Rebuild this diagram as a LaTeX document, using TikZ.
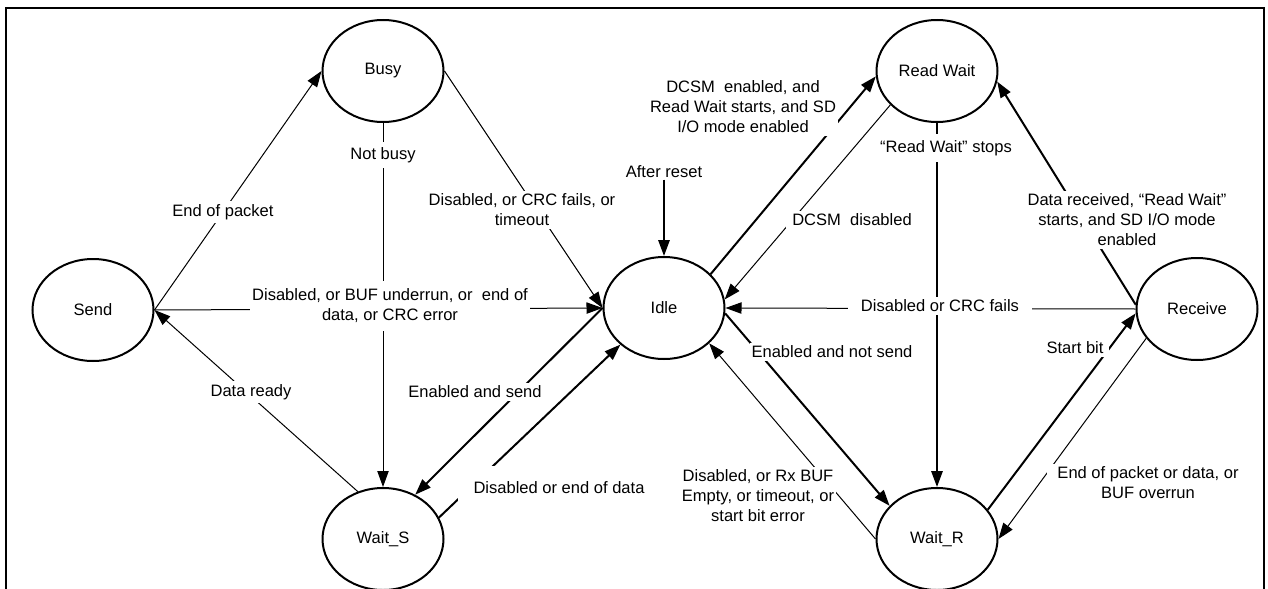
\documentclass[tikz,border=0pt]{standalone}
\usepackage{fontspec}
\setmainfont{Liberation Sans}
\usetikzlibrary{arrows.meta,shapes.geometric}
\begin{document}
\begin{tikzpicture}[x=0.75pt,y=-0.75pt,
  state/.style={draw, line width=1.5pt, ellipse, minimum width=90.75pt, minimum height=76.5pt, inner sep=0pt},
  tarr/.style={line width=0.75pt, -{Triangle[length=12pt,width=8.5pt]}},
  Tarr/.style={line width=1.5pt, -{Triangle[length=12pt,width=8.5pt]}},
  lab/.style={fill=white, align=center, inner xsep=1.5pt, inner ysep=2.5pt},
  font=\fontsize{12.4pt}{15pt}\selectfont]
\useasboundingbox (0,0) rectangle (1268,589);
\clip (0,0) rectangle (1268,589);
\fill[white] (0,0) rectangle (1268,589);
\draw[line width=1.6pt] (6,8) rectangle (1264,620);

% states
\node[state] (busy)    at (383,71)  {Busy};
\node[state] (send)    at (93,310)  {Send};
\node[state] (idle)    at (664,308) {Idle};
\node[state] (waits)   at (383,539) {Wait\_S};
\node[state] (readw)   at (937,71)  {Read Wait};
\node[state] (receive) at (1197,309) {Receive};
\node[state] (waitr)   at (937,539) {Wait\_R};

% free label for reset arrow
\node[inner sep=1pt] (reset) at (664,172) {After reset};

% connectors
\draw[tarr] (send.east) -- (busy.west);
\draw[tarr] (busy.south) -- (waits.north);
\draw[tarr] (busy.east) -- (idle.west);
\draw[tarr] (send.east) -- (idle.west);
\draw[tarr] (waits.118) -- (send.east);
\draw[Tarr] (idle.west) -- (waits.54);
\draw[Tarr] (waits.21) -- (idle.220);
\draw[Tarr] (reset) -- (idle.north);
\draw[Tarr] (idle.36) -- (readw.185);
\draw[tarr] (readw.216) -- (idle.8);
\draw[Tarr] (readw.south) -- (waitr.north);
\draw[tarr] (receive.west) -- (idle.east);
\draw[Tarr] (receive.176) -- (readw.350);
\draw[Tarr] (idle.355) -- (waitr.145);
\draw[tarr] (waitr.west) -- (idle.322);
\draw[Tarr] (waitr.30) -- (receive.184);
\draw[tarr] (receive.210) -- (waitr.east);

% labels
\node[lab] (l1) at (223,212) {End of packet};
\node[lab, inner ysep=4pt] (l2) at (383,155) {Not busy};
\node[lab] (l3) at (522,210) {Disabled, or CRC fails, or\\timeout};
\node[lab, inner ysep=6pt] (l4) at (390,306) {Disabled, or BUF underrun, or\ \ end of\\data, or CRC error};
\node[lab] (l5) at (251,392) {Data ready};
\node[lab] (l6) at (475,392) {Enabled and send};
\node[lab, inner xsep=12pt, inner ysep=12pt] (l7) at (559,488) {Disabled or end of data};
\node[lab] (l8) at (743,107) {DCSM\ \ enabled, and\\Read Wait starts, and SD\\I/O mode enabled};
\node[lab, inner xsep=5pt] (l9) at (852,220) {DCSM\ \ disabled};
\node[lab, inner ysep=5pt] (l10) at (946,148) {“Read Wait” stops};
\node[lab, inner xsep=10pt] (l11) at (940,306) {Disabled or CRC fails};
\node[lab] (l12) at (1127,220) {Data received, “Read Wait”\\starts, and SD I/O mode\\enabled};
\node[lab] (l13) at (832,352) {Enabled and not send};
\node[lab] (l14) at (758,496) {Disabled, or Rx BUF\\Empty, or timeout, or\\start bit error};
\node[lab, inner xsep=4pt] (l15) at (1075,348) {Start bit};
\node[lab, inner xsep=8pt] (l16) at (1148,483) {End of packet or data, or\\BUF overrun};
\end{tikzpicture}
\end{document}
